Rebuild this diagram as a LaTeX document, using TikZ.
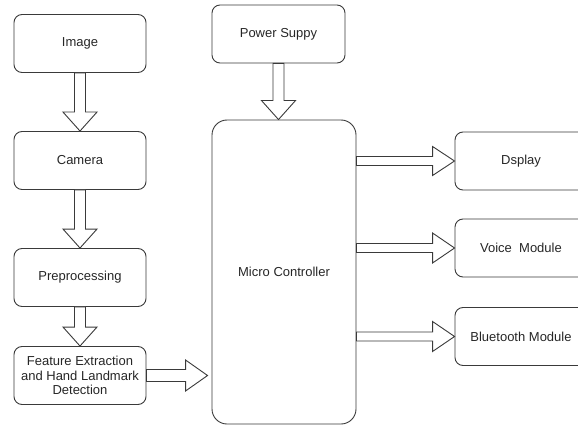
\documentclass[tikz,border=0pt]{standalone}
\usepackage{fontspec}
\setmainfont{Liberation Sans}
\usetikzlibrary{calc}
\definecolor{lc}{HTML}{3A3A3A}
\definecolor{tc}{HTML}{262626}
\tikzset{
  box/.style={draw=lc, line width=0.9pt, rounded corners=8pt, minimum width=132pt, minimum height=58pt,
    inner sep=1pt, align=center, text=tc, font=\fontsize{13}{14.5}\selectfont},
  barrow/.style={draw=lc, line width=0.9pt, fill=white, line join=miter}
}
% #1 start, #2 end, #3 shaft half width, #4 head half width, #5 head length
\newcommand\blockarrow[5]{%
  \draw[barrow] let \p1=(#1), \p2=(#2), \n1={veclen(\x2-\x1,\y2-\y1)}, \n2={atan2(\y2-\y1,\x2-\x1)} in
  [shift={(\p1)}, rotate=\n2]
  (0pt,#3) -- (\n1-#5,#3) -- (\n1-#5,#4) -- (\n1,0pt) -- (\n1-#5,-#4) -- (\n1-#5,-#3) -- (0pt,-#3) -- cycle;}
\begin{document}
\begin{tikzpicture}[x=1pt,y=-1pt]
\useasboundingbox (0,0) rectangle (578,425);
\begin{scope}
\clip (0,0) rectangle (578,425);
\node[box] (img) at (80,43.5) {Image};
\node[box] (cam) at (80,160.5) {Camera};
\node[box] (pre) at (80,277.5) {Preprocessing};
\node[box] (feat) at (80,375.5) {Feature Extraction\\and Hand Landmark\\Detection};
\node[box, minimum width=133pt] (pow) at (278.5,34) {Power Suppy};
\node[box, minimum width=144pt, minimum height=304pt, rounded corners=15pt] (mc) at (284,272) {Micro Controller};
\node[box] (dsp) at (521,161) {Dsplay};
\node[box] (voice) at (521,248) {Voice\ \ Module};
\node[box] (bt) at (521,336.5) {Bluetooth Module};
\coordinate (mcin) at ($(mc.west|-feat.east)+(-4,0)$);
\coordinate (mctop) at (pow.south|-mc.north);
\blockarrow{img.south}{cam.north}{5.5pt}{17pt}{19pt}
\blockarrow{cam.south}{pre.north}{5.5pt}{17pt}{19pt}
\blockarrow{pre.south}{feat.north}{5.5pt}{17pt}{19pt}
\blockarrow{pow.south}{mctop}{5.5pt}{17pt}{19pt}
\blockarrow{feat.east}{mcin}{6pt}{15.5pt}{22pt}
\blockarrow{mc.east|-dsp.west}{dsp.west}{4.5pt}{14.5pt}{22pt}
\blockarrow{mc.east|-voice.west}{voice.west}{4.5pt}{15pt}{22pt}
\blockarrow{mc.east|-bt.west}{bt.west}{4.5pt}{15pt}{22pt}
\end{scope}
\end{tikzpicture}
\end{document}
